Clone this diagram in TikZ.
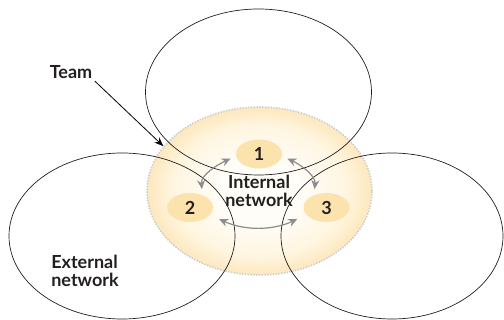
\documentclass[tikz,border=0pt]{standalone}
\usepackage{fontspec}
\setmainfont{Lato}
\usetikzlibrary{shapes.geometric,arrows.meta}

\definecolor{inkgray}{RGB}{35,31,32}
\definecolor{linkgray}{RGB}{138,140,142}
\definecolor{teamin}{RGB}{255,253,248}
\definecolor{teammid}{RGB}{255,246,226}
\definecolor{teamout}{RGB}{253,232,190}
\definecolor{memberfill}{RGB}{252,226,172}
\definecolor{dotgray}{RGB}{200,204,212}

\pgfdeclareradialshading{teamglow}{\pgfpoint{0bp}{0bp}}{%
  color(0bp)=(teamin); color(9bp)=(teamin); color(19bp)=(teammid);
  color(25bp)=(teamout); color(50bp)=(teamout)}

\tikzset{
  network/.style={ellipse, draw=inkgray, line width=0.7pt, minimum width=226pt, minimum height=166pt, inner sep=0pt},
  member/.style={ellipse, fill=memberfill, minimum width=46pt, minimum height=29pt, inner sep=0pt, text=inkgray, font=\fontsize{18}{18.5}\selectfont\bfseries},
  caption/.style={text=inkgray, font=\fontsize{18}{18.5}\selectfont\bfseries, inner sep=1pt},
  link/.style={draw=linkgray, line width=1.2pt, {Stealth[length=9pt,width=8pt]}-{Stealth[length=9pt,width=8pt]}, shorten <=6pt, shorten >=6pt},
}

\begin{document}
\begin{tikzpicture}[x=1pt, y=1pt]
\useasboundingbox (0,0) rectangle (504,-320);

% the team
\node[ellipse, minimum width=225pt, minimum height=168pt, inner sep=0pt, shading=teamglow, draw=dotgray, line width=1.6pt, dash pattern=on 1.3pt off 1.5pt] (team) at (259.5,-191) {};

% external networks
\node[network] (top) at (258.5,-92) {};
\node[network] (left) at (122,-236) {};
\node[network, minimum width=222pt] (right) at (392,-236) {};

% members
\node[member] (n1) at (259,-154) {1};
\node[member] (n2) at (190,-207.5) {2};
\node[member] (n3) at (326.5,-207.5) {3};

\draw[link] (n1.185) to[out=205, in=95] (n2.45);
\draw[link] (n1.-5) to[out=-25, in=85] (n3.135);
\draw[link, shorten <=10pt, shorten >=10pt] (n2.-20) to[out=-25, in=-155] (n3.-160);

\node[caption, align=center] (internal) at (259,-191) {Internal\\network};
\node[caption, align=left] (external) at (85,-271) {External\\network};

% label
\node[caption] (teamlbl) at (71,-72) {Team};
\draw[line width=0.8pt, -{Stealth[length=9pt,width=7pt]}, shorten <=2pt] (teamlbl.south east) -- (team.155);
\end{tikzpicture}
\end{document}
